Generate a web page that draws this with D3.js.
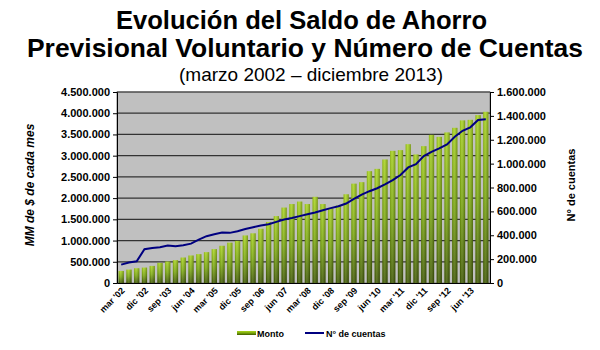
<!DOCTYPE html>
<html>
<head>
<meta charset="utf-8">
<script src="https://cdn.jsdelivr.net/npm/d3@7"></script>
<style>
  body { margin: 0; background: #fff; }
  text { font-family: "Liberation Sans", Arial, sans-serif; }
</style>
</head>
<body>
<div id="chart"></div>
<script>
// quarters mar '02 .. dic '13
const quarters = [
  "mar '02","jun '02","sep '02","dic '02","mar '03","jun '03","sep '03","dic '03",
  "mar '04","jun '04","sep '04","dic '04","mar '05","jun '05","sep '05","dic '05",
  "mar '06","jun '06","sep '06","dic '06","mar '07","jun '07","sep '07","dic '07",
  "mar '08","jun '08","sep '08","dic '08","mar '09","jun '09","sep '09","dic '09",
  "mar '10","jun '10","sep '10","dic '10","mar '11","jun '11","sep '11","dic '11",
  "mar '12","jun '12","sep '12","dic '12","mar '13","jun '13","sep '13","dic '13"
];
// saldo, MM de $
const monto = [
  284000, 316000, 348000, 363000, 403000, 474000, 506000, 537000,
  600000, 648000, 680000, 727000, 798000, 877000, 950000, 993000,
  1120000, 1170000, 1277000, 1437000, 1576000, 1777000, 1860000, 1918000,
  1860000, 2030000, 1860000, 1760000, 1828000, 2090000, 2340000, 2375000,
  2634000, 2689000, 2910000, 3113000, 3130000, 3270000, 3028000, 3224000,
  3490000, 3443000, 3547000, 3656000, 3830000, 3844000, 3955000, 4033000
];
// numero de cuentas
const cuentas = [
  154000, 171000, 182000, 283000, 294000, 300000, 314000, 308000,
  317000, 330000, 364000, 392000, 409000, 423000, 420000, 434000,
  453000, 467000, 481000, 492000, 512000, 532000, 545000, 560000,
  576000, 590000, 610000, 627000, 643000, 666000, 705000, 740000,
  769000, 794000, 826000, 862000, 904000, 968000, 996000, 1063000,
  1099000, 1128000, 1161000, 1225000, 1275000, 1304000, 1365000, 1371000
];
const leftTicks = d3.range(0, 4500001, 500000);
const rightTicks = d3.range(0, 1600001, 200000);

const width = 600, height = 350;
const x0 = 117, x1 = 490, yTop = 92, yBot = 283;

const loc = d3.formatLocale({decimal: ",", thousands: ".", grouping: [3], currency: ["$", ""]});
const fmt = loc.format(",.0f");

const svg = d3.select("#chart").append("svg")
    .attr("width", width)
    .attr("height", height);

const defs = svg.append("defs");
const grad = defs.append("linearGradient")
    .attr("id", "barGrad")
    .attr("x1", 0).attr("y1", 0).attr("x2", 0).attr("y2", 1);
grad.append("stop").attr("offset", "0%").attr("stop-color", "#a8d41c");
grad.append("stop").attr("offset", "50%").attr("stop-color", "#7aa80c");
grad.append("stop").attr("offset", "100%").attr("stop-color", "#3e5800");
const gradH = defs.append("linearGradient")
    .attr("id", "barShade")
    .attr("x1", 0).attr("y1", 0).attr("x2", 1).attr("y2", 0);
gradH.append("stop").attr("offset", "0%").attr("stop-color", "#000").attr("stop-opacity", 0.15);
gradH.append("stop").attr("offset", "35%").attr("stop-color", "#fff").attr("stop-opacity", 0.15);
gradH.append("stop").attr("offset", "100%").attr("stop-color", "#000").attr("stop-opacity", 0.3);

// titles
svg.append("text").attr("x", 116).attr("y", 29)
    .attr("font-size", 25).attr("font-weight", "bold")
    .attr("textLength", 371).attr("lengthAdjust", "spacingAndGlyphs")
    .text("Evolución del Saldo de Ahorro");
svg.append("text").attr("x", 27).attr("y", 57)
    .attr("font-size", 25).attr("font-weight", "bold")
    .attr("textLength", 556).attr("lengthAdjust", "spacingAndGlyphs")
    .text("Previsional Voluntario y Número de Cuentas");
svg.append("text").attr("x", 311).attr("y", 81)
    .attr("text-anchor", "middle").attr("font-size", 19)
    .text("(marzo 2002 – diciembre 2013)");

const x = d3.scaleBand()
    .domain(quarters)
    .range([x0, x1])
    .paddingInner(0.32)
    .paddingOuter(0.2);

const yL = d3.scaleLinear().domain([0, 4500000]).range([yBot, yTop]);
const yR = d3.scaleLinear().domain([0, 1600000]).range([yBot, yTop]);

// plot background
svg.append("rect")
    .attr("x", x0).attr("y", yTop)
    .attr("width", x1 - x0).attr("height", yBot - yTop)
    .attr("fill", "#c0c0c0")
    .attr("stroke", "#808080");

// gridlines
svg.append("g").selectAll("line")
    .data(leftTicks.slice(1))
    .join("line")
    .attr("x1", x0).attr("x2", x1)
    .attr("y1", d => yL(d)).attr("y2", d => yL(d))
    .attr("stroke", "#333").attr("stroke-width", 1.2);

// bars
const bars = svg.append("g");
bars.selectAll("rect.b")
    .data(monto)
    .join("rect")
    .attr("class", "b")
    .attr("x", (d, i) => x(quarters[i]))
    .attr("y", d => yL(d))
    .attr("width", x.bandwidth())
    .attr("height", d => yBot - yL(d))
    .attr("fill", "url(#barGrad)");
bars.selectAll("rect.s")
    .data(monto)
    .join("rect")
    .attr("class", "s")
    .attr("x", (d, i) => x(quarters[i]))
    .attr("y", d => yL(d))
    .attr("width", x.bandwidth())
    .attr("height", d => yBot - yL(d))
    .attr("fill", "url(#barShade)");

// line
const line = d3.line()
    .x((d, i) => x(quarters[i]) + x.bandwidth() / 2)
    .y(d => yR(d));
svg.append("path")
    .datum(cuentas)
    .attr("d", line)
    .attr("fill", "none")
    .attr("stroke", "#000080")
    .attr("stroke-width", 2);

// axes
const axL = svg.append("g")
    .attr("transform", `translate(${x0},0)`)
    .call(d3.axisLeft(yL).tickValues(leftTicks).tickFormat(fmt).tickSize(4).tickPadding(3));
const axR = svg.append("g")
    .attr("transform", `translate(${x1},0)`)
    .call(d3.axisRight(yR).tickValues(rightTicks).tickFormat(fmt).tickSize(4).tickPadding(3));
[axL, axR].forEach(g => {
  g.select(".domain").attr("stroke", "#000");
  g.selectAll("line").attr("stroke", "#000");
  g.selectAll("text")
      .attr("font-family", "'Liberation Sans', Arial, sans-serif")
      .attr("font-size", 11).attr("font-weight", "bold").attr("fill", "#000");
});

const axB = svg.append("g")
    .attr("transform", `translate(0,${yBot})`)
    .call(d3.axisBottom(x).tickValues(quarters.filter((d, i) => i % 3 === 0)).tickSize(0).tickPadding(0));
axB.select(".domain").attr("stroke", "#000");
axB.selectAll("text")
    .attr("font-family", "'Liberation Sans', Arial, sans-serif")
    .attr("font-size", 9).attr("font-weight", "bold").attr("fill", "#000")
    .attr("text-anchor", "end")
    .attr("dy", "0.35em")
    .attr("transform", "translate(2,6) rotate(-45)");

// axis titles
svg.append("text")
    .attr("transform", "translate(34,185) rotate(-90)")
    .attr("text-anchor", "middle").attr("font-size", 12)
    .attr("font-style", "italic").attr("font-weight", "bold")
    .text("MM de $ de cada mes");
svg.append("text")
    .attr("transform", "translate(575,185) rotate(-90)")
    .attr("text-anchor", "middle").attr("font-size", 11).attr("font-weight", "bold")
    .text("N° de cuentas");

// legend
const leg = svg.append("g").attr("font-size", 9).attr("font-weight", "bold");
leg.append("rect").attr("x", 237).attr("y", 331).attr("width", 19).attr("height", 4)
    .attr("fill", "url(#barGrad)");
leg.append("text").attr("x", 257).attr("y", 336.5).text("Monto");
leg.append("line").attr("x1", 305).attr("x2", 324).attr("y1", 333).attr("y2", 333)
    .attr("stroke", "#000080").attr("stroke-width", 2);
leg.append("text").attr("x", 326).attr("y", 336.5).text("N° de cuentas");
</script>
</body>
</html>
